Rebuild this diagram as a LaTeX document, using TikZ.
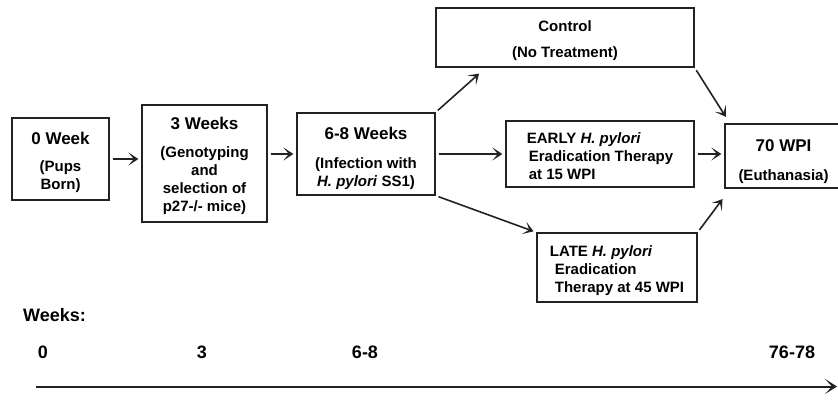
\documentclass[tikz,border=0pt]{standalone}
\usepackage{fontspec}
\setmainfont{Liberation Sans}
\usetikzlibrary{calc,arrows.meta}
\definecolor{line_dark}{HTML}{222222}

\newcommand{\stagetitle}{\fontsize{17}{20}\selectfont}
\newcommand{\toppad}[1]{\rule{0pt}{#1}}

\tikzset{
	stagebox/.style={draw=line_dark, line width=1.3pt, inner sep=0pt, align=center,
		font=\bfseries\fontsize{15}{18}\selectfont},
	flow/.style={draw=line_dark, line width=1.6pt, shorten <=3pt, shorten >=3pt,
		-{Stealth[length=10pt,width=13pt,inset=5.5pt]}},
	tick/.style={font=\bfseries\fontsize{18}{20}\selectfont, inner sep=0pt},
}

\begin{document}
\begin{tikzpicture}[x=1pt,y=-1pt]
	\useasboundingbox (0,0) rectangle (838,399);
	\clip (0,0) rectangle (838,399);
	% stages
	\node[stagebox, minimum width=97pt, minimum height=82pt] (born) at (60.5,159)
		{{\stagetitle\toppad{20pt}0 Week}\\[9pt](Pups\\Born)};
	\node[stagebox, minimum width=125pt, minimum height=117pt] (geno) at (204.5,163.5)
		{{\stagetitle\toppad{17pt}3 Weeks}\\[10pt](Genotyping\\and\\selection of\\p27-/- mice)};
	\node[stagebox, minimum width=138pt, minimum height=82pt] (infect) at (366,154)
		{{\stagetitle\toppad{21pt}6-8 Weeks}\\[11pt](Infection with\\\textit{H. pylori} SS1)};
	\node[stagebox, minimum width=258pt, minimum height=59pt] (ctrl) at (565,37.5)
		{\toppad{18pt}Control\\[8pt](No Treatment)};
	\node[stagebox, align=left, minimum width=188pt, minimum height=66pt] (early) at (600,154)
		{\toppad{15pt}EARLY \textit{H. pylori}\\\hspace*{2pt}Eradication Therapy\\\hspace*{2pt}at 15 WPI};
	\node[stagebox, align=left, minimum width=160pt, minimum height=69pt] (late) at (617,267.5)
		{\toppad{17pt}LATE \textit{H. pylori}\\\hspace*{5pt}Eradication\\\hspace*{5pt}Therapy at 45 WPI};
	\node[stagebox, minimum width=117pt, minimum height=64pt] (wpi) at (783.5,156)
		{{\stagetitle\toppad{24pt}70 WPI}\\[11pt](Euthanasia)};
	% arrows
	\draw[flow] (born.east) -- (born.east -| geno.west);
	\draw[flow] (infect.west -| geno.east) -- (infect.west);
	\draw[flow] (infect.north east) -- ([xshift=46pt,yshift=-4pt]ctrl.south west);
	\draw[flow] (infect.east) -- (early.west);
	\draw[flow] (infect.south east) -- (late.north west);
	\draw[flow] (ctrl.south east) -- ([xshift=3pt,yshift=4pt]wpi.north west);
	\draw[flow] (early.east) -- (early.east -| wpi.west);
	\draw[flow] (late.north east) -- ([yshift=-8pt]wpi.south west);
	% time line
	\node[tick, anchor=west] (weeks) at (23,315) {Weeks:};
	\node[tick] (w0) at (43,352) {0};
	\node[tick] (w3) at (202,352) {3};
	\node[tick] (w6) at (365,352) {6-8};
	\node[tick] (w76) at (792,352) {76-78};
	\coordinate (tstart) at (36,386.5);
	\coordinate (tend) at (837,386.5);
	\draw[line_dark, line width=2pt, -{Stealth[length=12pt,width=15pt,inset=7pt]}] (tstart) -- (tend);
\end{tikzpicture}
\end{document}
